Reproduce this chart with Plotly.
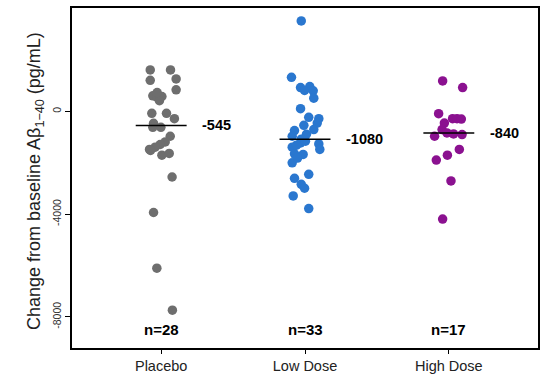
import plotly.graph_objects as go

categories = ["Placebo", "Low Dose", "High Dose"]
colors = ["#6e6e6e", "#2a77cf", "#8b1190"]
n_labels = ["n=28", "n=33", "n=17"]
medians = [-545, -1080, -840]

placebo_vals = [1614, 1614, 1211, 1265, 840, 608, 553, 580, 414, 735,
                -77, -77, -282, -464, -619, -619, -968, -1188, -1289, -1393,
                -1482, -1520, -1703, -1637, -2554, -3936, -6103, -7740]
placebo_jit = [-0.076, 0.065, -0.076, 0.104, 0.104, -0.058, -0.030, 0.005, -0.012, -0.028,
               -0.065, 0.037, 0.092, -0.053, -0.058, -0.002, 0.063, 0.028, -0.007, -0.042,
               -0.081, -0.074, 0.005, 0.056, 0.076, -0.053, -0.030, 0.078]

low_vals = [3522, 1327, 929, 968, 813, 801, 515, 104, -232, -283,
            -453, -542, -708, -747, -890, -968, -1080, -1227, -1265, -1393,
            -1482, -1652, -1676, -2001, -2450, -2605, -2837, -2992, -3290, -3781,
            -1316, -1161, -1819]
low_jit = [-0.026, -0.094, -0.031, 0.033, -0.003, 0.057, 0.061, -0.031, 0.026, 0.096,
           0.085, -0.008, 0.061, -0.073, 0.010, -0.089, -0.026, -0.031, 0.096, -0.089,
           0.103, -0.073, -0.013, -0.089, 0.026, -0.073, -0.026, -0.003, -0.082, 0.026,
           -0.059, 0.003, -0.052]

high_vals = [1188, 929, -89, -453, -283, -283, -298, -708, -840, -878,
             -902, -968, -1482, -1703, -1896, -2709, -4191]
high_jit = [-0.043, 0.096, -0.071, -0.031, 0.026, 0.057, 0.087, -0.047, -0.013, 0.033,
            0.092, -0.099, 0.073, -0.010, -0.087, 0.015, -0.043]

values = [placebo_vals, low_vals, high_vals]
jitters = [placebo_jit, low_jit, high_jit]

FONT = "Liberation Sans, Arial, sans-serif"
fig = go.Figure()

for i, (vals, jit) in enumerate(zip(values, jitters)):
    pos = i + 1
    fig.add_trace(go.Scatter(
        x=[pos + j for j in jit], y=vals, mode="markers",
        marker=dict(size=9.5, color=colors[i], line=dict(width=0)),
        showlegend=False, hoverinfo="y"))
    fig.add_trace(go.Scatter(
        x=[pos - 0.177, pos + 0.177], y=[medians[i], medians[i]], mode="lines",
        line=dict(color="black", width=1.5), showlegend=False, hoverinfo="skip"))
    fig.add_annotation(x=pos + 0.27, y=medians[i], text=f"<b>{medians[i]}</b>",
                       showarrow=False, xanchor="left", yanchor="middle",
                       font=dict(family=FONT, size=14.5, color="black"))
    fig.add_annotation(x=pos, y=-8500, text=f"<b>{n_labels[i]}</b>",
                       showarrow=False, xanchor="center", yanchor="middle",
                       font=dict(family=FONT, size=15, color="black"))

fig.add_annotation(xref="paper", yref="paper", x=(35 - 72) / 466, y=0.491,
                   text="Change from baseline Aβ<sub>1−40</sub> (pg/mL)",
                   textangle=-90, showarrow=False, xanchor="center", yanchor="middle",
                   font=dict(family=FONT, size=18, color="#222"))

fig.update_layout(
    width=558, height=387,
    margin=dict(l=72, r=20, t=6, b=39),
    plot_bgcolor="white", paper_bgcolor="white",
    font=dict(family=FONT, color="#222"),
    xaxis=dict(range=[0.38, 3.62], tickmode="array", tickvals=[1, 2, 3],
               ticktext=categories, showgrid=False, zeroline=False,
               showline=True, linecolor="black", linewidth=1.5, mirror=True,
               ticks="outside", ticklen=4, tickcolor="black",
               tickfont=dict(family=FONT, size=14.5, color="#222")),
    yaxis=dict(range=[-9211, 4025], tickvals=[0, -4000, -8000],
               ticktext=["0", "-4000", "-8000"], tickangle=-90,
               showgrid=False, zeroline=False,
               showline=True, linecolor="black", linewidth=1.5, mirror=True,
               ticks="outside", ticklen=5, tickcolor="black",
               tickfont=dict(family=FONT, size=10.5, color="#333")),
)

fig.write_html("out.html", config={"displayModeBar": False},
               post_script="document.body.style.margin='0';")
